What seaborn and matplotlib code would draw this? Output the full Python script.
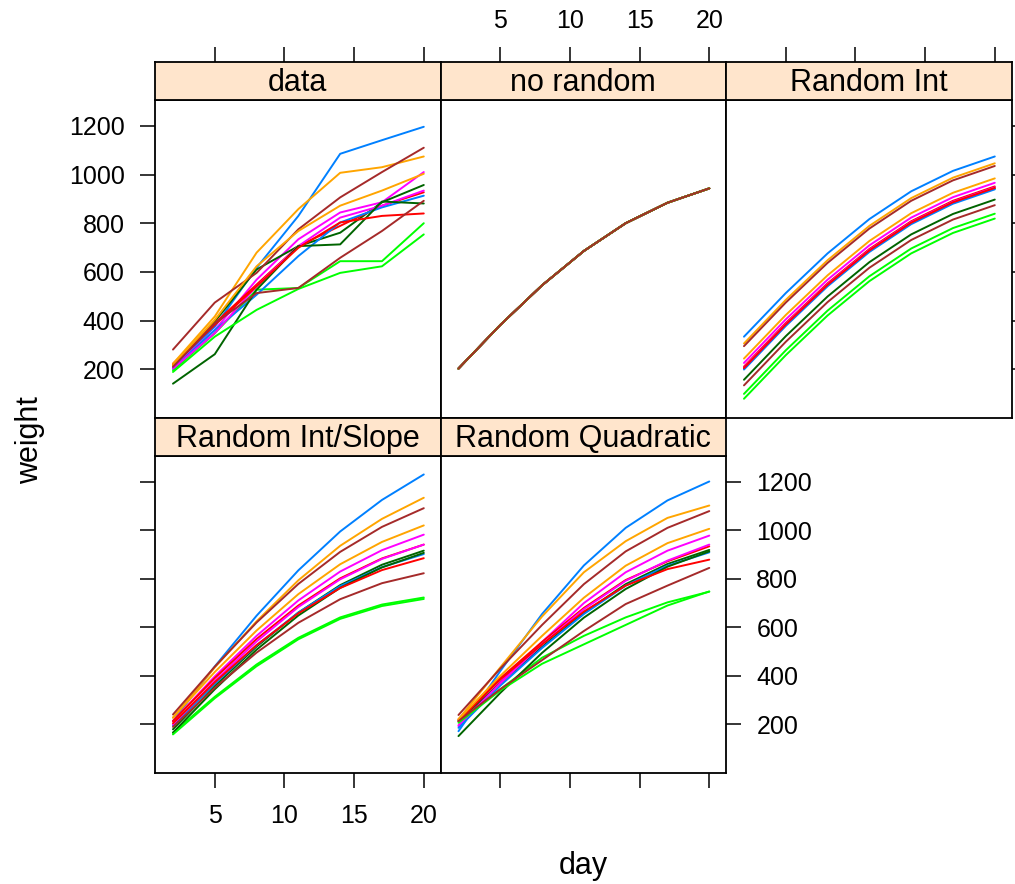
import numpy as np
import pandas as pd
import matplotlib
matplotlib.use("Agg")
import matplotlib.pyplot as plt
import seaborn as sns

# --- data ---
days = [2, 5, 8, 11, 14, 17, 20]
panels = ["data", "no random", "Random Int", "Random Int/Slope", "Random Quadratic"]
chicks = ["c%02d" % i for i in range(1, 15)]
# lattice superpose colours, cycled twice over the 14 groups
line_colors = ["#0080ff", "#ff00ff", "#006400", "#ff0000", "#ffa500", "#00ff00", "#a52a2a"] * 2

data_weight = [
    [210, 375, 617, 830, 1085, 1141, 1196],
    [210, 361, 568, 734, 844, 886, 1010],
    [217, 396, 610, 706, 761, 886, 957],
    [223, 389, 548, 706, 789, 872, 927],
    [223, 417, 679, 858, 1007, 1030, 1074],
    [196, 348, 527, 534, 644, 644, 800],
    [281, 474, 596, 775, 906, 1010, 1110],
    [203, 361, 506, 665, 803, 865, 913],
    [203, 348, 541, 706, 823, 872, 934],
    [141, 262, 527, 706, 713, 889, 881],
    [217, 382, 541, 699, 803, 830, 840],
    [217, 403, 623, 768, 872, 934, 1003],
    [189, 334, 444, 530, 596, 623, 754],
    [210, 389, 513, 534, 658, 768, 892],
]

# fixed-effect curve, identical for every group
norandom_curve = [203, 382, 545, 686, 800, 884, 943]
norandom_weight = [norandom_curve] * 14

randint_weight = [
    [334, 513, 676, 817, 931, 1015, 1074],
    [226, 405, 568, 709, 823, 907, 966],
    [203, 382, 545, 686, 800, 884, 943],
    [211, 390, 553, 694, 808, 892, 951],
    [306, 485, 648, 789, 903, 987, 1046],
    [99, 278, 441, 582, 696, 780, 839],
    [295, 474, 637, 778, 892, 976, 1035],
    [199, 378, 541, 682, 796, 880, 939],
    [207, 386, 549, 690, 804, 888, 947],
    [157, 336, 499, 640, 754, 838, 897],
    [205, 384, 547, 688, 802, 886, 945],
    [244, 423, 586, 727, 841, 925, 984],
    [79, 258, 421, 562, 676, 760, 819],
    [134, 313, 476, 617, 731, 815, 874],
]

randslope_weight = [
    [214, 439, 648, 835, 995, 1125, 1230],
    [214, 398, 565, 711, 830, 918, 982],
    [180, 358, 521, 661, 774, 858, 916],
    [214, 391, 552, 690, 802, 884, 941],
    [228, 435, 625, 794, 936, 1047, 1134],
    [166, 314, 447, 557, 641, 694, 723],
    [241, 438, 620, 779, 911, 1014, 1091],
    [195, 368, 526, 661, 770, 848, 902],
    [200, 379, 542, 684, 798, 882, 941],
    [166, 345, 508, 649, 763, 847, 907],
    [205, 374, 527, 658, 762, 836, 885],
    [228, 416, 587, 737, 860, 952, 1020],
    [159, 308, 440, 551, 635, 688, 717],
    [190, 351, 496, 619, 716, 782, 823],
]

randquad_weight = [
    [172, 420, 655, 855, 1010, 1123, 1201],
    [193, 375, 540, 700, 827, 916, 978],
    [214, 370, 520, 660, 778, 861, 919],
    [221, 390, 540, 680, 795, 872, 934],
    [221, 435, 645, 827, 955, 1051, 1102],
    [214, 345, 475, 565, 641, 703, 747],
    [239, 430, 610, 778, 913, 1010, 1079],
    [186, 360, 515, 655, 772, 854, 909],
    [197, 370, 530, 675, 792, 875, 941],
    [152, 330, 495, 640, 758, 850, 913],
    [214, 385, 530, 665, 772, 840, 879],
    [221, 400, 565, 722, 854, 947, 1006],
    [207, 340, 450, 530, 610, 690, 748],
    [214, 345, 465, 585, 696, 772, 845],
]

x_ticks = [5, 10, 15, 20]
y_ticks = [200, 400, 600, 800, 1000, 1200]

# long-form table
rows = []
for panel, table in zip(panels, [data_weight, norandom_weight, randint_weight,
                                 randslope_weight, randquad_weight]):
    for chick, series in zip(chicks, table):
        for d, w in zip(days, series):
            rows.append({"panel": panel, "chick": chick, "day": d, "weight": w})
df = pd.DataFrame(rows)
palette = dict(zip(chicks, line_colors))

sns.set_theme(style="white")
plt.rcParams["font.family"] = ["Liberation Sans", "DejaVu Sans"]
plt.rcParams["text.color"] = "black"

W, H = 1015, 884
fig = plt.figure(figsize=(W / 100, H / 100), dpi=100)


def box(x0, y0, x1, y1):
    return [x0 / W, 1 - y1 / H, (x1 - x0) / W, (y1 - y0) / H]


col_x = [(155, 440.5), (440.5, 726), (726, 1011.5)]
row_strip = [(62, 100), (418, 456)]
row_panel = [(100, 418), (456, 773)]
layout = [(0, 0), (0, 1), (0, 2), (1, 0), (1, 1)]
xlim = (0.71, 21.2)
ylim = (0, 1306)
tick_len = 10.8

for panel, (r, c) in zip(panels, layout):
    x0, x1 = col_x[c]
    ax = fig.add_axes(box(x0, row_panel[r][0], x1, row_panel[r][1]))
    sub = df[df["panel"] == panel]
    sns.lineplot(data=sub, x="day", y="weight", hue="chick", hue_order=chicks,
                 palette=palette, estimator=None, legend=False, linewidth=1.4, ax=ax)
    ax.set_xlim(*xlim)
    ax.set_ylim(*ylim)
    ax.set_xlabel("")
    ax.set_ylabel("")
    ax.set_xticks(x_ticks)
    ax.set_yticks(y_ticks)
    ax.set_facecolor("white")
    for s in ax.spines.values():
        s.set_color("black")
        s.set_linewidth(1.3)
    ax.tick_params(axis="both", direction="out", length=tick_len, width=1.1,
                   color="black", labelsize=18, labelcolor="black")
    ax.tick_params(axis="x", top=False, labeltop=False,
                   bottom=(r == 1), labelbottom=(r == 1 and c == 0), pad=11.5)
    ax.tick_params(axis="y", left=(c == 0), labelleft=(r == 0 and c == 0),
                   right=((r == 0 and c == 2) or (r == 1 and c == 1)),
                   labelright=(r == 1 and c == 1), pad=11)

    # strip
    sax = fig.add_axes(box(x0, row_strip[r][0], x1, row_strip[r][1]))
    sax.set_facecolor("#ffe5cc")
    sax.set_xlim(*xlim)
    sax.set_ylim(0, 1)
    sax.set_yticks([])
    for s in sax.spines.values():
        s.set_color("black")
        s.set_linewidth(1.3)
    sax.text(0.5, 0.45, panel, transform=sax.transAxes, ha="center", va="center",
             fontsize=22, color="black")
    if r == 0:
        sax.set_xticks(x_ticks)
        sax.tick_params(axis="x", direction="out", length=tick_len, width=1.1,
                        color="black", labelsize=18, labelcolor="black",
                        top=True, labeltop=(c == 1), bottom=False,
                        labelbottom=False, pad=10)
    else:
        sax.set_xticks([])

fig.text(583 / W, 1 - 866 / H, "day", ha="center", va="center", fontsize=22,
         color="black")
fig.text(30 / W, 1 - 440 / H, "weight", ha="center", va="center",
         rotation=90, fontsize=22, color="black")

fig.savefig("out.png", dpi=100, facecolor="white")
